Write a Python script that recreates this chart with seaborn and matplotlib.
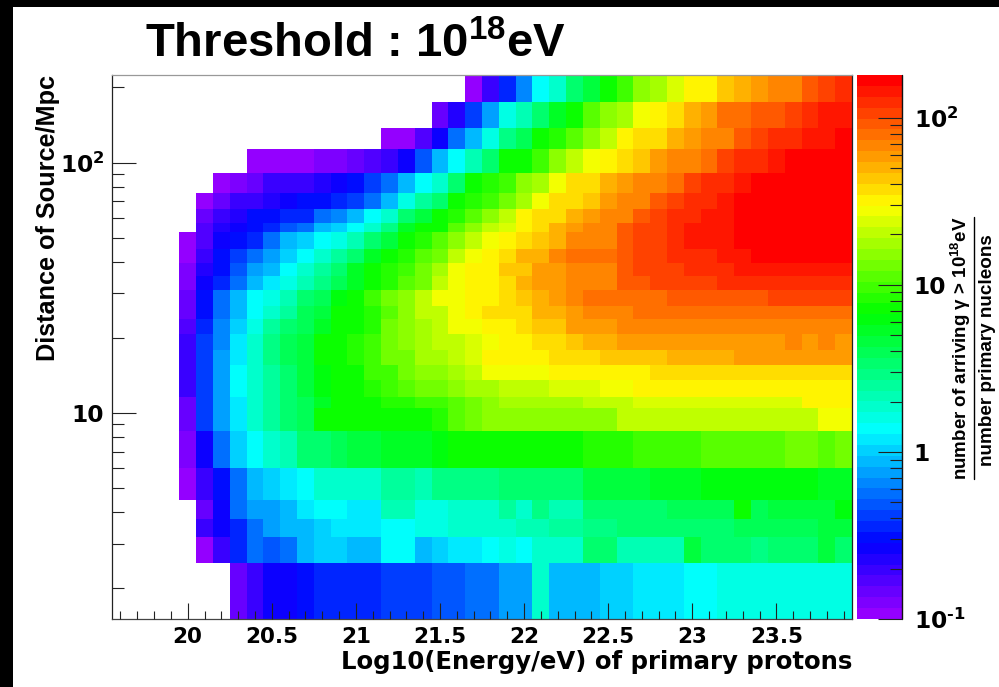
import numpy as np
import pandas as pd
import matplotlib
matplotlib.use("Agg")
import matplotlib.pyplot as plt
import seaborn as sns
from matplotlib.cm import ScalarMappable
from matplotlib.colors import LinearSegmentedColormap, LogNorm
from matplotlib.lines import Line2D
from matplotlib.patches import Rectangle
from matplotlib.ticker import FixedLocator, NullFormatter

nan = float("nan")

# distance bin edges in Mpc, top of the plot first
distance_edges = [224, 175.2, 137.2, 113.1, 90.7, 75.4, 65.3, 57.2, 52.8, 45.2, 39.7, 35.2, 31.0, 26.7,
                  23.7, 20.7, 17.8, 15.5, 13.5, 11.6, 10.5, 8.5, 6.0, 4.5, 3.76, 3.2, 2.5, 1.5]

# arriving gamma counts, one list per distance bin, 44 energy bins each
row_00 = [nan]*21 + [.1,.2,.36,.7,1.3,2,3.5,4.5,7.5,9.5,16,18,25,33,33,45,52,62,72,72,90,100,115]
row_01 = [nan]*19 + [.14,.22,.4,.8,1.5,2.2,3.5,5.5,7.5,11,15,17,26,33,40,47,62,75,75,90,90,105,125,140,140]
row_02 = [nan]*16 + [.1,.11,.18,.27,.55,.85,1.6,2.9,3.8,6.7,8.5,11,15,21,31,35,39,52,60,72,72,88,105,125,125,140,140,180]
row_03 = [nan]*8 + [.1,.1,.11,.11,.13,.13,.15,.18,.21,.25,.47,.85,1.3,2.2,3.5,6.7,7.5,9.5,16,19,26,32,39,45,62,72,72,85,105,125,125,150,180,180,180,180]
row_04 = [nan]*6 + [.11,.13,.15,.19,.19,.19,.22,.27,.29,.4,.55,.85,1.3,2,3.5,7.2,8,9,15,18,26,35,40,47,60,72,72,85,105,125,125,145,180,180,180,180,180,180]
row_05 = [nan]*5 + [.1,.14,.19,.19,.22,.27,.29,.33,.38,.44,.6,.85,1.5,2.5,3.6,6.7,8,9,14,18,27,35,40,45,60,72,72,88,100,125,125,150,180,180,180,180,180,180,180]
row_06 = [nan]*5 + [.15,.21,.24,.3,.33,.36,.36,.58,.7,.9,1.3,1.9,3.3,4.8,6.7,8.5,11,16,21,31,35,40,52,62,72,72,88,100,120,120,140,140,180,180,180,180,180,180,180]
row_07 = [nan]*5 + [.16,.22,.27,.32,.38,.45,.6,.85,1,1.3,1.9,2.9,5.5,7,7.5,12,15,20,25,33,40,48,62,72,72,88,100,100,120,150,150,150,180,180,180,180,180,180,180]
row_08 = [nan]*4 + [.1,.18,.27,.33,.38,.6,.85,1.1,1.3,1.6,2.3,3.6,4.8,6.7,8,11,16,20,27,32,35,43,50,70,72,72,95,105,105,130,150,150,150,180,180,180,180,180,180,180]
row_09 = [nan]*4 + [.11,.19,.29,.43,.55,.75,1,1.3,1.8,2.5,3.6,5,6.7,8,11,14,21,26,31,35,47,52,65,75,75,75,95,105,105,115,130,130,145,145,160,180,180,180,180,180]
row_10 = [nan]*4 + [.13,.24,.33,.5,.75,.9,1.4,2,2.7,3.5,5,6.7,8,10,14,18,26,31,32,42,45,55,62,72,72,72,90,100,105,110,130,130,130,140,140,150,150,150,150,150]
row_11 = [nan]*4 + [.13,.27,.36,.6,.9,1.2,1.5,2.2,2.9,3.8,5.5,7,8.5,12,14,19,26,31,33,40,47,55,62,72,72,72,88,92,100,103,110,110,120,120,125,130,130,130,130,130]
row_12 = [nan]*4 + [.15,.3,.55,.85,1.3,1.6,2.2,3.3,4.1,5.8,7.2,9,12.5,15.5,20,27,29,34,34,39,45,52,58,68,75,75,75,82,85,88,88,92,92,92,95,105,105,105,105,105]
row_13 = [nan]*4 + [.15,.33,.58,.9,1.35,1.9,2.5,3.8,4.8,6.7,7.2,8.5,12,15,19,21,28,32,35,35,40,47,52,60,68,72,72,75,75,75,75,75,75,75,75,75,75,85,78,78]
row_14 = [nan]*4 + [.16,.36,.65,1,1.5,2.5,3.3,4.1,5.5,7,7.5,8.5,12.5,15,18,20,26,29,33,33,35,43,45,55,60,62,68,72,72,72,72,72,72,72,72,72,72,72,72,72]
row_15 = [nan]*4 + [.19,.4,.7,1.2,1.9,2.9,3.8,4.8,6.7,7,8,9,13,14.5,17,19,21,25,29,31,33,35,40,45,50,52,55,60,60,60,60,60,60,60,60,60,68,55,68,55]
row_16 = [nan]*4 + [.19,.4,.72,1.2,1.8,2.9,3.8,4.8,6.7,7.2,8,9.5,12.5,14,17,17.5,20,25,31,31,32,34,35,38,40,43,43,45,45,47,47,50,52,55,55,55,55,55,55,55]
row_17 = [nan]*4 + [.19,.4,.75,1.3,1.8,2.7,3.6,4.8,6,7,7.5,9,10,12.5,14.5,16,18,20,26,28,29,29,31,31,32,33,33,34,35,35,35,35,35,37,37,37,37,40,40,40]
row_18 = [nan]*4 + [.19,.4,.8,1.3,1.9,2.7,3.6,4.5,6,7,7.3,8.5,9.5,11,12.5,14,16,18,18,20,21,21,24,24,25,28,28,31,31,31,31,31,31,31,33,33,33,33,33,33]
row_19 = [nan]*4 + [.15,.4,.75,1.15,1.8,2.5,3.5,3.8,5.5,7,7,7.5,8,8.5,9,9.5,12,14,15,17,17,17,18,18,20,20,20,23,23,25,25,25,25,25,25,25,25,31,31,31]
row_20 = [nan]*4 + [.15,.4,.75,1.15,1.9,2.5,3.6,4.1,6.7,7,7.2,7.2,7.4,7.4,7.5,8.5,11,12.5,15,16,16,16,16,16,16,16,19,19,19,19,19,19,22,22,22,22,22,22,26,26]
row_21 = [nan]*4 + [.12,.28,.55,1,1.3,1.9,2.2,3.3,3.6,3.8,4.5,4.8,5,5,5.5,5.8,6.7,6.7,7.2,7.5,7.5,7.5,7.5,7.5,8.5,8.5,8.5,9.5,9.5,9.5,9.5,11,11,11,11,11,14,14,12,14]
row_22 = [nan]*4 + [.1,.19,.32,.6,.85,1,1.2,1.4,1.85,1.85,1.85,1.85,2.7,2.7,2.1,2.9,2.9,2.9,2.9,3.5,3.6,3.6,3.6,3.6,4.8,4.8,4.8,4.8,5.5,5.5,5.5,5.8,5.8,6.3,6.3,6.3,6.3,6.3,5.5,5.5]
row_23 = [nan]*5 + [.15,.27,.55,.75,.75,.9,1.2,1.3,1.3,1.15,1.15,2.2,2.2,1.6,1.6,2,2,1.9,2.7,1.9,2.9,2.2,2.2,3.6,3.6,3.3,3.3,3.3,3.8,3.8,3.8,3.8,6.7,4,4.5,4.5,4.5,4.5,5.8]
row_24 = [nan]*5 + [.19,.27,.36,.55,.8,.9,.9,1,1.2,1.2,1.2,1.3,1.3,1.5,1.5,2,2,1.85,1.85,2.1,2.1,2.5,2.5,2.9,2.9,3.3,3.3,3.3,3.6,3.6,3.6,3.6,3.8,4,4,4.1,4.1,4.5,4.5]
row_25 = [nan]*5 + [.1,.19,.38,.58,.45,.58,.9,1.1,1.1,.9,.9,1.3,1.3,.9,1.05,1.2,1.2,1.3,1.6,1.4,1.9,1.9,1.9,3.3,3.3,2.2,2.2,2.2,2.2,4.8,3.3,3.3,3.6,3,3.6,3.6,3.6,4.8,3.6]
row_26 = [nan]*7 + [.14,.19,.27,.28,.32,.35,.35,.35,.35,.42,.42,.42,.5,.5,.6,.6,.75,.75,1.9,.85,.85,.85,1,1,1.2,1.2,1.2,1.3,1.3,1.5,1.5,1.5,1.7,1.7,1.7,1.7,1.7]

rows = [row_00, row_01, row_02, row_03, row_04, row_05, row_06, row_07, row_08, row_09, row_10, row_11, row_12, row_13,
        row_14, row_15, row_16, row_17, row_18, row_19, row_20, row_21, row_22, row_23, row_24, row_25, row_26]

x_tick_values = [20, 20.5, 21, 21.5, 22, 22.5, 23, 23.5]
x_tick_labels = ["20", "20.5", "21", "21.5", "22", "22.5", "23", "23.5"]

W, H = 999, 687
sns.set_theme(style="ticks")
plt.rcParams["font.family"] = ["Liberation Sans", "DejaVu Sans"]
plt.rcParams["font.weight"] = "bold"
plt.rcParams["mathtext.fontset"] = "custom"
plt.rcParams["mathtext.bf"] = "DejaVu Sans:bold"
plt.rcParams["mathtext.rm"] = "Liberation Sans:bold"
plt.rcParams["mathtext.default"] = "regular"

palette = LinearSegmentedColormap.from_list(
    "root_rainbow",
    [(0, (0.58, 0, 1)), (0.133, (0, 0, 1)), (0.344, (0, 1, 1)), (0.5625, (0, 1, 0)), (0.765, (1, 1, 0)), (1, (1, 0, 0))],
    N=50,
)
VMIN, VMAX = 0.1, 180

# long table for histplot, colour is log10(count) shifted so that empty bins stay at zero
energy_edges = np.linspace(19.55, 23.95, 45)
energy_centers = (energy_edges[:-1] + energy_edges[1:]) / 2
records = []
for i, row in enumerate(rows):
    d = np.sqrt(distance_edges[i] * distance_edges[i + 1])
    for e, v in zip(energy_centers, row):
        if not np.isnan(v):
            records.append((e, d, np.log10(v) + 2))
df = pd.DataFrame(records, columns=["energy", "distance", "level"])

fig = plt.figure(figsize=(W / 100, H / 100), dpi=100, facecolor="black")
fig.add_artist(Rectangle((13 / W, 0), 1 - 13 / W, 1 - 7 / H, transform=fig.transFigure, color="white", lw=0, zorder=-5))

ax = fig.add_axes([112 / W, 1 - 619 / H, (852 - 112) / W, (619 - 75) / H])
sns.histplot(data=df, x="energy", y="distance", weights="level", ax=ax, log_scale=(False, True),
             bins=[energy_edges, np.log10(sorted(distance_edges))], cmap=palette,
             vmin=np.log10(VMIN) + 2, vmax=np.log10(VMAX) + 2, thresh=0, linewidth=0)

ax.set_xlim(19.55, 23.95)
ax.set_ylim(1.5, 224)
ax.set_facecolor("white")
ax.set_xlabel("")
ax.set_ylabel("")
ax.set_xticks(x_tick_values)
ax.set_xticklabels(x_tick_labels, fontsize=15.5, fontweight="bold", family="DejaVu Sans", color="black")
ax.set_xticks(np.arange(19.6, 23.95, 0.1), minor=True)
ax.tick_params(axis="x", which="major", direction="in", length=11.5, width=0.8, color="#222222", pad=6, bottom=True, top=False)
ax.tick_params(axis="x", which="minor", direction="in", length=5.8, width=0.8, color="#222222", bottom=True, top=False)
ax.set_yticks([10, 100])
ax.set_yticklabels(["10", r"$\mathbf{10^{2}}$"], fontsize=16.8, fontweight="bold", family="DejaVu Sans", color="black")
ax.yaxis.set_minor_locator(FixedLocator([2, 3, 4, 5, 6, 7, 8, 9, 20, 30, 40, 50, 60, 70, 80, 90, 200]))
ax.yaxis.set_minor_formatter(NullFormatter())
ax.tick_params(axis="y", which="major", direction="in", length=17.5, width=0.8, color="#222222", pad=5.5, left=True, right=False)
ax.tick_params(axis="y", which="minor", direction="in", length=8.8, width=0.8, color="#222222", left=True, right=False)
ax.spines["left"].set_color("#222222")
ax.spines["bottom"].set_color("#444444")
ax.spines["top"].set_color("#999999")
ax.spines["right"].set_color("#222222")
for side in ax.spines.values():
    side.set_linewidth(0.9)
# ticks sit on top of the cells
ax.collections[0].set_zorder(0.4)
ax.xaxis.set_zorder(5)
ax.yaxis.set_zorder(5)

# colour scale
cax = fig.add_axes([857 / W, 1 - 619 / H, (902 - 857) / W, (619 - 75) / H])
sm = ScalarMappable(norm=LogNorm(VMIN, VMAX), cmap=palette)
cbar = fig.colorbar(sm, cax=cax)
cbar.outline.set_linewidth(0)
cbar.solids.set_zorder(0.4)
cax.yaxis.set_zorder(5)
cax.yaxis.set_ticks_position("right")
cax.set_yticks([0.1, 1, 10, 100])
cax.set_yticklabels(["$\\mathbf{10^{\u20101}}$", "1", "10", r"$\mathbf{10^{2}}$"], fontsize=16.8, fontweight="bold", family="DejaVu Sans", color="black")
cax.yaxis.set_minor_locator(FixedLocator([0.2, 0.3, 0.4, 0.5, 0.6, 0.7, 0.8, 0.9, 2, 3, 4, 5, 6, 7, 8, 9, 20, 30, 40, 50, 60, 70, 80, 90]))
cax.yaxis.set_minor_formatter(NullFormatter())
cax.tick_params(axis="y", which="major", direction="in", length=17.5, width=0.8, color="#222222", pad=8.5)
cax.tick_params(axis="y", which="minor", direction="in", length=8.8, width=0.8, color="#222222")
cax.plot([1, 1], [0, 1], transform=cax.transAxes, color="#111111", lw=1.0, clip_on=False)

fig.text(145 / W, 1 - 45 / H, r"Threshold : 10$^{18}$eV", fontsize=34, fontweight="bold", va="center", ha="left", color="black")
fig.text(852 / W, 1 - 662 / H, "Log10(Energy/eV) of primary protons", fontsize=17.6, fontweight="bold", family="DejaVu Sans", ha="right", va="center", color="black")
fig.text(48 / W, 1 - 75 / H, "Distance of Source/Mpc", fontsize=18.2, fontweight="bold", rotation=90, ha="center", va="top", color="black")
fig.text(961 / W, 1 - 348 / H, r"number of arriving $\gamma$ > 10$^{18}$eV", fontsize=13.5, fontweight="bold", rotation=90, ha="center", va="center", color="black")
fig.text(988 / W, 1 - 350 / H, "number primary nucleons", fontsize=13.6, fontweight="bold", rotation=90, ha="center", va="center", color="black")
fig.add_artist(Line2D([974 / W, 974 / W], [1 - 217 / H, 1 - 479 / H], transform=fig.transFigure, color="black", lw=1))

fig.savefig("out.png", dpi=100, facecolor=fig.get_facecolor())
